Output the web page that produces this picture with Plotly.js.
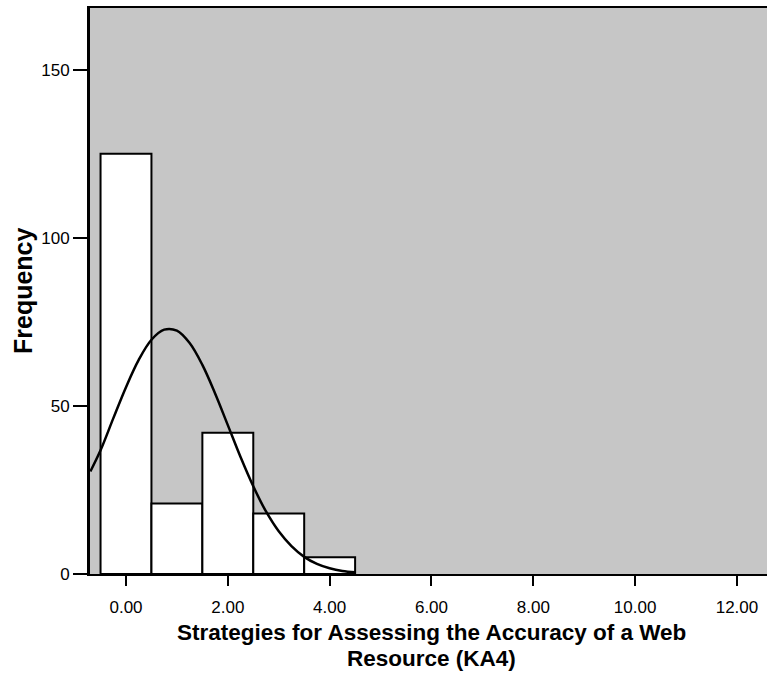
<!DOCTYPE html>
<html><head><meta charset="utf-8">
<script src="https://cdn.plot.ly/plotly-3.0.1.min.js"></script>
<style>html,body{margin:0;padding:0;background:#fff}#chart{width:767px;height:678px}</style>
</head><body><div id="chart"></div>
<script>
// Histogram bins (centres) and frequencies
const binCenters = [0, 1, 2, 3, 4];
const frequencies = [125, 21, 42, 18, 5];
// Normal curve points
const curveX = [-0.7, -0.5, -0.25, 0, 0.25, 0.5, 0.75, 1.0, 1.25, 1.5, 1.75, 2.0, 2.25, 2.5, 2.75, 3.0, 3.25, 3.5, 3.75, 4.0, 4.25, 4.5];
const curveY = [30.5, 36.8, 46.3, 55.6, 63.7, 69.7, 72.7, 72.4, 68.7, 62.2, 53.7, 44.3, 34.8, 26.1, 18.6, 12.7, 8.3, 5.1, 3.0, 1.7, 0.9, 0.5];
const xTicks = [0, 2, 4, 6, 8, 10, 12];
const xTickLabels = ["0.00", "2.00", "4.00", "6.00", "8.00", "10.00", "12.00"];
const yTicks = [0, 50, 100, 150];
const xTitleLines = ["Strategies for Assessing the Accuracy of a Web", "Resource (KA4)"];
const yTitle = "Frequency";

const font = "Liberation Sans, Arial, sans-serif";
const data = [
  {type: "bar", x: binCenters, y: frequencies, width: 1,
   marker: {color: "#ffffff", line: {color: "#000000", width: 2}},
   hoverinfo: "skip", showlegend: false},
  {type: "scatter", mode: "lines", x: curveX, y: curveY,
   line: {color: "#000000", width: 2.5, shape: "spline", smoothing: 1},
   hoverinfo: "skip", showlegend: false}
];
const layout = {
  width: 767, height: 678,
  margin: {l: 90, r: 0, t: 8, b: 104},
  paper_bgcolor: "#ffffff",
  plot_bgcolor: "#c6c6c6",
  font: {family: font, color: "#000"},
  bargap: 0,
  xaxis: {
    range: [-0.707, 12.59], tickvals: xTicks, ticktext: xTickLabels,
    showgrid: false, zeroline: false, showline: true, linecolor: "#000", linewidth: 2,
    mirror: true, ticks: "outside", ticklen: 10, tickwidth: 2, tickcolor: "#000",
    ticklabelstandoff: 7,
    tickfont: {size: 17, family: font}
  },
  yaxis: {
    range: [0, 168.4], tickvals: yTicks,
    showgrid: false, zeroline: false, showline: true, linecolor: "#000", linewidth: 3,
    ticks: "outside", ticklen: 14, tickwidth: 2, tickcolor: "#000",
    tickfont: {size: 17, family: font}
  },
  annotations: [
    {xref: "paper", yref: "paper", x: 0, y: 0.5, xshift: -67, xanchor: "center", yanchor: "middle",
     textangle: -90, text: "<b>" + yTitle + "</b>", showarrow: false, font: {size: 25, family: font}},
    {xref: "paper", yref: "paper", x: 0.505, y: 0, yshift: -58, xanchor: "center", yanchor: "middle",
     text: "<b>" + xTitleLines[0] + "</b>", showarrow: false, font: {size: 22.5, family: font}},
    {xref: "paper", yref: "paper", x: 0.505, y: 0, yshift: -84, xanchor: "center", yanchor: "middle",
     text: "<b>" + xTitleLines[1] + "</b>", showarrow: false, font: {size: 22.5, family: font}}
  ]
};
Plotly.newPlot("chart", data, layout, {displayModeBar: false, staticPlot: true});
</script></body></html>
